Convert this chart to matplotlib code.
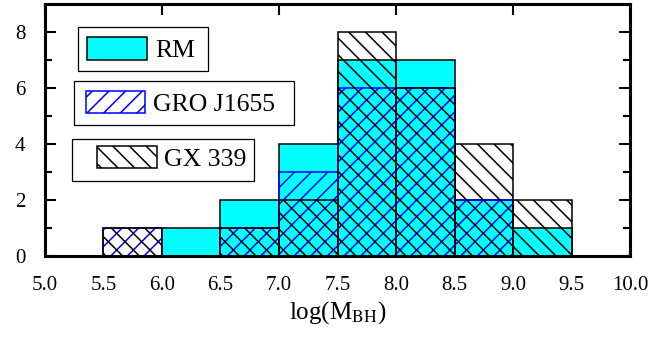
import numpy as np
import matplotlib
matplotlib.use('Agg')
import matplotlib.pyplot as plt
from matplotlib.patches import Rectangle

plt.rcParams['font.family'] = ['Liberation Serif', 'DejaVu Serif']
plt.rcParams['mathtext.fontset'] = 'stix'
plt.rcParams['hatch.linewidth'] = 1.1

# histogram bins (left edges) of log(M_BH), width 0.5
bin_left = [5.5, 6.0, 6.5, 7.0, 7.5, 8.0, 8.5, 9.0]
bin_width = 0.5

# counts per bin for each calibration
rm_counts = [0, 1, 2, 4, 7, 7, 2, 1]
gro_counts = [1, 0, 1, 3, 6, 6, 2, 0]
gx_counts = [1, 0, 1, 2, 8, 6, 4, 2]

x_labels = ['5.0', '5.5', '6.0', '6.5', '7.0', '7.5', '8.0', '8.5', '9.0', '9.5', '10.0']

fig = plt.figure(figsize=(6.69, 3.37), dpi=100)
ax = fig.add_axes([0.067, 0.24, 0.875, 0.748])

# RM: cyan filled bars
ax.bar(bin_left, rm_counts, width=bin_width, align='edge',
       facecolor='cyan', edgecolor='black', linewidth=1.1, zorder=2)
# GRO J1655: blue forward hatch
ax.bar(bin_left, gro_counts, width=bin_width, align='edge',
       facecolor='none', edgecolor='blue', hatch='//', linewidth=1.1, zorder=3)
# GX 339: black back hatch
ax.bar(bin_left, gx_counts, width=bin_width, align='edge',
       facecolor='none', edgecolor='black', hatch='\\\\', linewidth=1.1, zorder=4)

ax.set_xlim(5.0, 10.0)
ax.set_ylim(0, 9)

# x ticks: integers on both sides, labels every 0.5
ax.set_xticks(np.arange(5, 11, 1), labels=x_labels[::2])
ax.set_xticks(np.arange(5.5, 10, 1), labels=x_labels[1::2], minor=True)
ax.set_yticks([0, 2, 4, 6, 8])
ax.set_yticks([1, 3, 5, 7], minor=True)

ax.tick_params(axis='x', which='major', direction='in', top=True, bottom=True,
               length=8, width=1.5, pad=14, labelsize=15)
ax.tick_params(axis='x', which='minor', length=0, pad=14, labelsize=15)
ax.tick_params(axis='y', which='major', direction='in', left=True, right=True,
               length=8, width=1.5, pad=14, labelsize=15)
ax.tick_params(axis='y', which='minor', direction='in', left=True, right=True,
               length=5, width=1.5)

for sp in ax.spines.values():
    sp.set_linewidth(2.2)
    sp.set_zorder(6)

ax.set_xlabel(r'log(M$_{\mathrm{BH}}$)', fontsize=18, labelpad=3)

# separate legend boxes, as in the original figure
legend_items = [
    # box (x, y, w, h), patch (x, y, w, h), text (x, y), label, style
    ((0.056, 0.733, 0.222, 0.175), (0.072, 0.778, 0.103, 0.091), (0.188, 0.788), 'RM',
     dict(facecolor='cyan', edgecolor='black')),
    ((0.050, 0.520, 0.376, 0.175), (0.070, 0.567, 0.101, 0.087), (0.185, 0.575), 'GRO J1655',
     dict(facecolor='white', edgecolor='blue', hatch='//')),
    ((0.046, 0.298, 0.311, 0.167), (0.089, 0.349, 0.103, 0.087), (0.203, 0.358), 'GX 339',
     dict(facecolor='white', edgecolor='black', hatch='\\\\')),
]
for box, patch, txt, label, style in legend_items:
    ax.add_patch(Rectangle(box[:2], box[2], box[3], transform=ax.transAxes,
                           facecolor='white', edgecolor='black', linewidth=0.9, zorder=7))
    ax.add_patch(Rectangle(patch[:2], patch[2], patch[3], transform=ax.transAxes,
                           linewidth=1.1, zorder=8, **style))
    ax.text(txt[0], txt[1], label, transform=ax.transAxes, fontsize=18.5,
            va='baseline', ha='left', zorder=9)

fig.savefig('out.png', dpi=100)
